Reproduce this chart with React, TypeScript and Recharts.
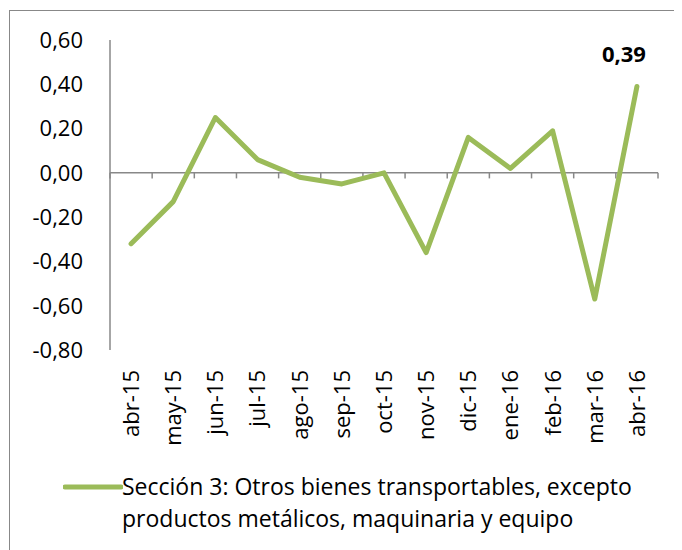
import React from 'react';
import { LineChart, Line, XAxis, YAxis, ReferenceLine, Legend, LabelList } from 'recharts';

const categories = ['abr-15', 'may-15', 'jun-15', 'jul-15', 'ago-15', 'sep-15', 'oct-15', 'nov-15', 'dic-15', 'ene-16', 'feb-16', 'mar-16', 'abr-16'];
const values = [-0.32, -0.13, 0.25, 0.06, -0.02, -0.05, 0.0, -0.36, 0.16, 0.02, 0.19, -0.57, 0.39];
const yTicks = [-0.8, -0.6, -0.4, -0.2, 0, 0.2, 0.4, 0.6];
const legendLines = ['Sección 3: Otros bienes transportables, excepto', 'productos metálicos, maquinaria y equipo'];
const seriesName = legendLines.join(' ');

const data = categories.map((cat, i) => ({ idx: i, cat, value: values[i] }));
const boundaries = Array.from({ length: categories.length + 1 }, (_, i) => i - 0.5);

const FONT = '"Open Sans", sans-serif';
const LINE = '#9BBB59';
const AXIS = '#888888';

const fmt = (v: number) => v.toFixed(2).replace('.', ',');

const XTick = (props: any) => {
  const { x, y, payload } = props;
  const label = categories[payload.value];
  return (
    <g transform={`translate(${x},${y + 20})`}>
      <text transform="rotate(-90)" x={0} y={0} dy="0.36em" textAnchor="end" fontFamily={FONT} fontSize={22} fill="#000">
        {label}
      </text>
    </g>
  );
};

const LastLabel = (props: any) => {
  const { x, y, index, value } = props;
  if (index !== values.length - 1) return null;
  return (
    <text x={x - 13} y={y - 32} dy="0.35em" textAnchor="middle" fontFamily={FONT} fontSize={22} fontWeight="bold" fill="#000">
      {fmt(value)}
    </text>
  );
};

const LegendContent = () => (
  <div style={{ position: 'relative', height: 100, width: 674, fontFamily: FONT }}>
    <svg style={{ position: 'absolute', left: 55, top: 33 }} width={60} height={8}>
      <line x1={2} y1={4} x2={58} y2={4} stroke={LINE} strokeWidth={5} strokeLinecap="round" />
    </svg>
    <div style={{ position: 'absolute', left: 114, top: 20, fontSize: 23, lineHeight: '32px', color: '#000', whiteSpace: 'nowrap' }}>
      {legendLines.map((l) => (
        <div key={l}>{l}</div>
      ))}
    </div>
  </div>
);

export default function App() {
  return (
    <div style={{ position: 'relative', width: 674, height: 542 }}>
      <div style={{ position: 'absolute', left: 1, top: 2, right: -20, bottom: -20, borderTop: `1.5px solid ${AXIS}`, borderLeft: `1.5px solid ${AXIS}` }} />
      <LineChart width={674} height={542} data={data} margin={{ top: 32, right: 24, left: 0, bottom: 0 }}>
        <YAxis
          type="number"
          domain={[-0.8, 0.6]}
          ticks={yTicks}
          width={102}
          tickFormatter={fmt}
          axisLine={{ stroke: AXIS, strokeWidth: 1.5 }}
          tickLine={false}
          tickSize={0}
          tickMargin={27}
          tick={{ fontFamily: FONT, fontSize: 22, fill: '#000' }}
          interval={0}
        />
        <XAxis
          type="number"
          dataKey="idx"
          domain={[-0.5, categories.length - 0.5]}
          ticks={categories.map((_, i) => i)}
          interval={0}
          height={100}
          axisLine={false}
          tickLine={false}
          tickSize={0}
          tickMargin={0}
          tick={<XTick />}
        />
        <ReferenceLine y={0} stroke={AXIS} strokeWidth={1.5} />
        {boundaries.map((b) => (
          <ReferenceLine key={b} segment={[{ x: b, y: 0 }, { x: b, y: -0.025 }]} stroke={AXIS} strokeWidth={1.5} />
        ))}
        <Legend verticalAlign="bottom" content={<LegendContent />} />
        <Line
          type="linear"
          dataKey="value"
          name={seriesName}
          stroke={LINE}
          strokeWidth={5}
          strokeLinecap="round"
          strokeLinejoin="round"
          dot={false}
          activeDot={false}
          isAnimationActive={false}
        >
          <LabelList dataKey="value" content={<LastLabel />} />
        </Line>
      </LineChart>
    </div>
  );
}
